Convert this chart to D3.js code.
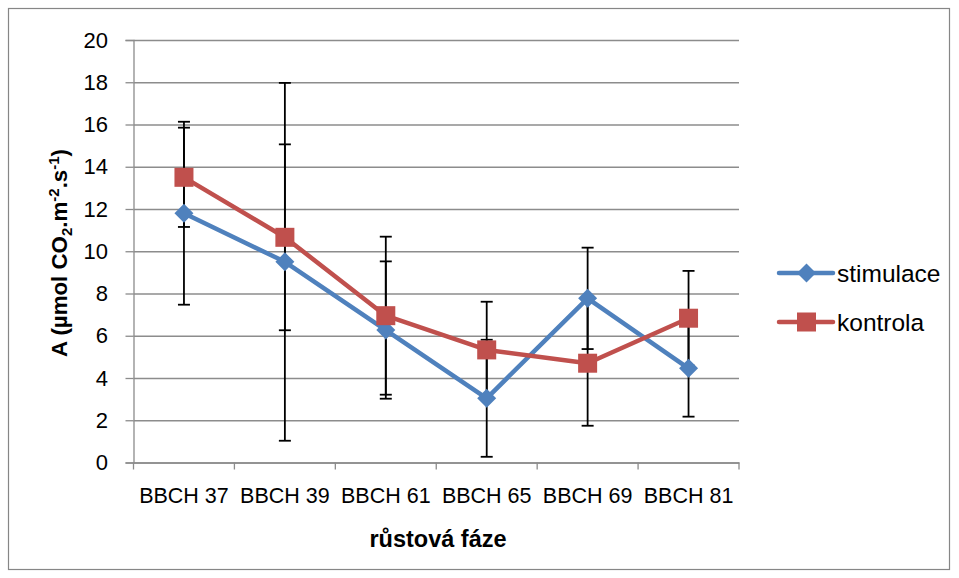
<!DOCTYPE html>
<html>
<head>
<meta charset="utf-8">
<script src="https://cdn.jsdelivr.net/npm/d3@7"></script>
<style>
  body { margin: 0; background: #fff; }
  text { font-family: "Liberation Sans", Arial, sans-serif; }
</style>
</head>
<body>
<script>
// growth stages (x categories)
const stages = ["BBCH 37", "BBCH 39", "BBCH 61", "BBCH 65", "BBCH 69", "BBCH 81"];
// series values
const stimulace = [11.8, 9.5, 6.27, 3.04, 7.77, 4.46];
const stimulaceErr = [4.33, 8.47, 3.25, 2.77, 2.4, 2.29];
const kontrola = [13.5, 10.66, 6.95, 5.33, 4.7, 6.83];
const kontrolaErr = [2.35, 4.4, 3.74, 2.28, 2.96, 2.24];
const yTicks = [0, 2, 4, 6, 8, 10, 12, 14, 16, 18, 20];

const width = 959, height = 578;
const plotLeft = 133.5, plotRight = 739, plotTop = 40, plotBottom = 462.5;

const series = [
  {name: "stimulace", values: stimulace, err: stimulaceErr, color: "#4f81bd", marker: "diamond"},
  {name: "kontrola", values: kontrola, err: kontrolaErr, color: "#c0504d", marker: "square"}
];

const svg = d3.select("body").append("svg")
    .attr("width", width)
    .attr("height", height);

// chart border
svg.append("rect")
    .attr("x", 8.5).attr("y", 8.5)
    .attr("width", 941).attr("height", 561)
    .attr("fill", "none")
    .attr("stroke", "#868686")
    .attr("stroke-width", 1.2);

const x = d3.scaleBand().domain(stages).range([plotLeft, plotRight]);
const y = d3.scaleLinear().domain([0, 20]).range([plotBottom, plotTop]);
const cx = d => x(d) + x.bandwidth() / 2;

// gridlines
svg.append("g")
    .attr("transform", `translate(${plotLeft},0)`)
    .call(d3.axisLeft(y).tickValues(yTicks).tickSize(-(plotRight - plotLeft)).tickFormat(""))
    .call(g => g.select(".domain").remove())
    .call(g => g.selectAll("line").attr("stroke", "#8c8c8c").attr("stroke-width", 1.3));

// y axis
svg.append("g")
    .attr("transform", `translate(${plotLeft},0)`)
    .call(d3.axisLeft(y).tickValues(yTicks).tickSize(8).tickPadding(17.5))
    .call(g => g.select(".domain").attr("stroke", "#8c8c8c").attr("stroke-width", 1.3))
    .call(g => g.selectAll("line").attr("stroke", "#8c8c8c").attr("stroke-width", 1.3))
    .call(g => g.selectAll("text").attr("font-size", 22).attr("fill", "#000")
        .attr("font-family", "Liberation Sans, Arial, sans-serif"));

// x axis: labels from band scale, tick marks at category boundaries
const xAxis = svg.append("g")
    .attr("transform", `translate(0,${plotBottom})`)
    .call(d3.axisBottom(x).tickSize(0).tickPadding(25.5))
    .call(g => g.select(".domain").attr("stroke", "#8c8c8c").attr("stroke-width", 1.3))
    .call(g => g.selectAll("text").attr("font-size", 21.5).attr("fill", "#000")
        .attr("font-family", "Liberation Sans, Arial, sans-serif"));

xAxis.selectAll(".bound")
  .data(stages.map(s => x(s)).concat([plotRight]))
  .join("line")
    .attr("x1", d => d).attr("x2", d => d)
    .attr("y1", 0).attr("y2", 7)
    .attr("stroke", "#8c8c8c").attr("stroke-width", 1.3);

// error bars
const capW = 6;
series.forEach(s => {
  const g = svg.append("g").attr("stroke", "#000").attr("stroke-width", 1.8);
  const pts = stages.map((c, i) => ({c, v: s.values[i], e: s.err[i]}));
  g.selectAll(".v").data(pts).join("line")
      .attr("x1", d => cx(d.c)).attr("x2", d => cx(d.c))
      .attr("y1", d => y(d.v + d.e)).attr("y2", d => y(d.v - d.e));
  g.selectAll(".hi").data(pts).join("line")
      .attr("x1", d => cx(d.c) - capW).attr("x2", d => cx(d.c) + capW)
      .attr("y1", d => y(d.v + d.e)).attr("y2", d => y(d.v + d.e));
  g.selectAll(".lo").data(pts).join("line")
      .attr("x1", d => cx(d.c) - capW).attr("x2", d => cx(d.c) + capW)
      .attr("y1", d => y(d.v - d.e)).attr("y2", d => y(d.v - d.e));
});

const line = d3.line().x(d => cx(d.c)).y(d => y(d.v));

// lines
series.forEach(s => {
  const pts = stages.map((c, i) => ({c, v: s.values[i]}));
  svg.append("path")
      .datum(pts)
      .attr("fill", "none")
      .attr("stroke", s.color)
      .attr("stroke-width", 4.5)
      .attr("stroke-linejoin", "round")
      .attr("d", line);
});

function drawMarker(sel, type, color) {
  if (type === "diamond") {
    sel.append("path")
        .attr("d", "M0,-9.5L9.5,0L0,9.5L-9.5,0Z")
        .attr("fill", color);
  } else {
    sel.append("rect")
        .attr("x", -9.5).attr("y", -9.5)
        .attr("width", 19).attr("height", 19)
        .attr("fill", color);
  }
}

// markers
series.forEach(s => {
  const pts = stages.map((c, i) => ({c, v: s.values[i]}));
  svg.append("g").selectAll("g").data(pts).join("g")
      .attr("transform", d => `translate(${cx(d.c)},${y(d.v)})`)
      .each(function() { drawMarker(d3.select(this), s.marker, s.color); });
});

// legend
const legend = svg.append("g").selectAll("g").data(series).join("g")
    .attr("transform", (d, i) => `translate(779,${273 + i * 49})`);
legend.append("line")
    .attr("x1", 0).attr("x2", 54)
    .attr("stroke", d => d.color)
    .attr("stroke-width", 4.5)
    .attr("stroke-linecap", "round");
legend.each(function(d) {
  const g = d3.select(this).append("g").attr("transform", "translate(27.5,0)");
  drawMarker(g, d.marker, d.color);
});
legend.append("text")
    .attr("x", 58).attr("y", 0).attr("dy", "0.35em")
    .attr("font-size", 24.5)
    .text(d => d.name);

// axis titles
svg.append("text")
    .attr("x", 438).attr("y", 547)
    .attr("text-anchor", "middle")
    .attr("font-size", 23.5).attr("font-weight", "bold")
    .text("růstová fáze");

const yTitle = svg.append("text")
    .attr("transform", `translate(67,253) rotate(-90)`)
    .attr("text-anchor", "middle")
    .attr("font-size", 22.3).attr("font-weight", "bold");
yTitle.append("tspan").text("A (µmol CO");
yTitle.append("tspan").attr("font-size", 15).attr("dy", 5).text("2");
yTitle.append("tspan").attr("dy", -5).text(".m");
yTitle.append("tspan").attr("font-size", 15).attr("dy", -8).text("-2");
yTitle.append("tspan").attr("dy", 8).text(".s");
yTitle.append("tspan").attr("font-size", 15).attr("dy", -8).text("-1");
yTitle.append("tspan").attr("dy", 8).text(")");
</script>
</body>
</html>
